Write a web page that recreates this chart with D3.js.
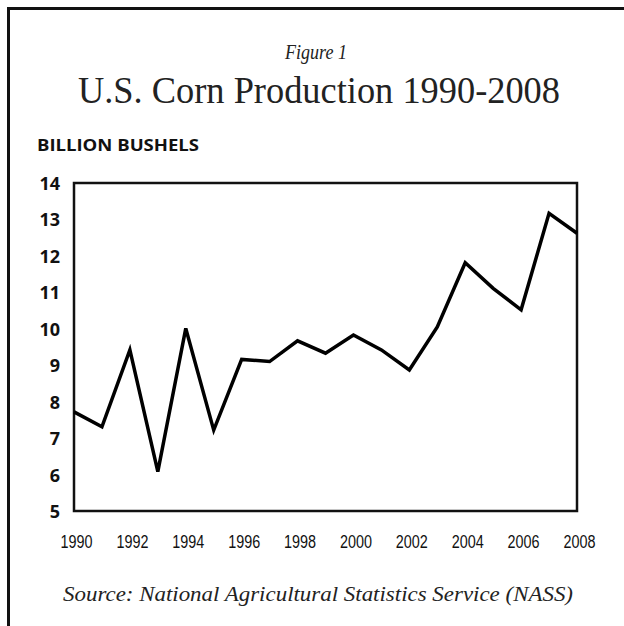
<!DOCTYPE html>
<html>
<head>
<meta charset="utf-8">
<script src="https://cdn.jsdelivr.net/npm/d3@7"></script>
<style>
  body { margin: 0; background: #fff; }
  svg { display: block; }
</style>
</head>
<body>
<div id="chart"></div>
<script>
// values (billion bushels)
const years = [1990, 1991, 1992, 1993, 1994, 1995, 1996, 1997, 1998, 1999,
               2000, 2001, 2002, 2003, 2004, 2005, 2006, 2007, 2008];
const production = [7.72, 7.31, 9.42, 6.08, 10.01, 7.22, 9.16, 9.10, 9.67, 9.33,
                    9.83, 9.42, 8.87, 10.05, 11.81, 11.11, 10.52, 13.17, 12.62];
const yTicks = [5, 6, 7, 8, 9, 10, 11, 12, 13, 14];
const xTicks = [1990, 1992, 1994, 1996, 1998, 2000, 2002, 2004, 2006, 2008];

const width = 624, height = 626;
const plot = { left: 74, right: 577, top: 183, bottom: 511 };

const svg = d3.select("#chart")
    .append("svg")
    .attr("width", width)
    .attr("height", height);

// outer frame, runs off the right and bottom edge
svg.append("rect")
    .attr("x", 8.5)
    .attr("y", 8.5)
    .attr("width", 700)
    .attr("height", 700)
    .attr("fill", "none")
    .attr("stroke", "#111")
    .attr("stroke-width", 3);

svg.append("text")
    .attr("x", 316)
    .attr("y", 59)
    .attr("text-anchor", "middle")
    .attr("textLength", 62)
    .attr("lengthAdjust", "spacingAndGlyphs")
    .style("font-family", "'Liberation Serif', serif")
    .style("font-style", "italic")
    .style("font-size", "22px")
    .style("fill", "#222")
    .text("Figure 1");

svg.append("text")
    .attr("x", 78)
    .attr("y", 103)
    .attr("textLength", 482)
    .attr("lengthAdjust", "spacingAndGlyphs")
    .style("font-family", "'Liberation Serif', serif")
    .style("font-size", "38px")
    .style("fill", "#222")
    .text("U.S. Corn Production 1990-2008");

svg.append("text")
    .attr("x", 37)
    .attr("y", 151)
    .attr("textLength", 162)
    .attr("lengthAdjust", "spacingAndGlyphs")
    .style("font-family", "'Open Sans', sans-serif")
    .style("font-weight", 700)
    .style("font-size", "16px")
    .style("fill", "#111")
    .text("BILLION BUSHELS");

const x = d3.scaleLinear()
    .domain([1990, 2008])
    .range([plot.left, plot.right]);

const y = d3.scaleLinear()
    .domain([5, 14])
    .range([plot.bottom, plot.top]);

const yAxis = svg.append("g")
    .attr("transform", `translate(${plot.left},0)`)
    .call(d3.axisLeft(y).tickValues(yTicks).tickFormat(d3.format("d")).tickSize(0).tickPadding(14));
yAxis.select(".domain").remove();
yAxis.selectAll("text")
    .attr("dy", "0.36em")
    .style("font-family", "'Open Sans', sans-serif")
    .style("font-weight", 700)
    .style("font-size", "18px")
    .style("fill", "#111");

const xAxis = svg.append("g")
    .attr("transform", `translate(0,${plot.bottom})`)
    .call(d3.axisBottom(x).tickValues(xTicks).tickFormat(d3.format("d")).tickSize(0).tickPadding(24));
xAxis.select(".domain").remove();
xAxis.selectAll("text")
    .attr("x", 2)
    .attr("textLength", 32)
    .attr("lengthAdjust", "spacingAndGlyphs")
    .style("font-family", "'Liberation Sans Narrow', 'Liberation Sans', sans-serif")
    .style("font-size", "18px")
    .style("fill", "#111");

svg.append("rect")
    .attr("x", plot.left)
    .attr("y", plot.top)
    .attr("width", plot.right - plot.left)
    .attr("height", plot.bottom - plot.top)
    .attr("fill", "none")
    .attr("stroke", "#111")
    .attr("stroke-width", 2.5);

const line = d3.line()
    .x((d, i) => x(years[i]))
    .y(d => y(d));

svg.append("path")
    .datum(production)
    .attr("d", line)
    .attr("fill", "none")
    .attr("stroke", "#000")
    .attr("stroke-width", 3.5)
    .attr("stroke-linejoin", "miter");

svg.append("text")
    .attr("x", 63)
    .attr("y", 601)
    .attr("textLength", 510)
    .attr("lengthAdjust", "spacingAndGlyphs")
    .style("font-family", "'Liberation Serif', serif")
    .style("font-style", "italic")
    .style("font-size", "22px")
    .style("fill", "#222")
    .text("Source: National Agricultural Statistics Service (NASS)");
</script>
</body>
</html>
